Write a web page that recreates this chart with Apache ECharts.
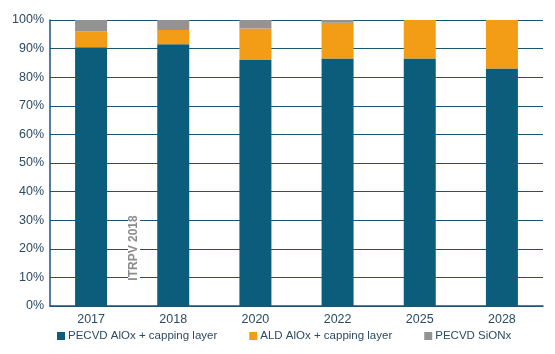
<!DOCTYPE html>
<html>
<head>
<meta charset="utf-8">
<script src="https://cdn.jsdelivr.net/npm/echarts@6/dist/echarts.min.js"></script>
<style>
  html, body { margin: 0; padding: 0; background: #fff; }
  #chart { width: 555px; height: 354px; }
</style>
</head>
<body>
<div id="chart"></div>
<script>
// 年份
var years = ['2017', '2018', '2020', '2022', '2025', '2028'];
// 各系列份额（%）
var pecvdAlox = [90.5, 91.5, 86, 86.5, 86.5, 83];
var aldAlox = [5.5, 5, 11, 12.5, 13.5, 17];
var pecvdSionx = [4, 3.5, 3, 1, 0, 0];
var seriesNames = ['PECVD AlOx + capping layer', 'ALD AlOx + capping layer', 'PECVD SiONx'];
var colorList = ['#0b5d7b', '#f39c15', '#939393'];

var chart = echarts.init(document.getElementById('chart'));

var axisColor = '#1b5572';
var labelColor = '#2c4a63';

function bar(name, data, color) {
    return {
        name: name,
        type: 'bar',
        stack: 'total',
        barWidth: 32,
        data: data,
        itemStyle: { color: color }
    };
}

chart.setOption({
    animation: false,
    grid: { left: 50, right: 12, top: 20, bottom: 48 },
    legend: {
        top: 330,
        left: 57,
        width: 495,
        padding: 0,
        icon: 'rect',
        itemWidth: 8,
        itemHeight: 8,
        itemGap: 32,
        textStyle: { color: labelColor, fontSize: 11.5, fontFamily: 'Liberation Sans', padding: [0, 0, 0, -2] },
        data: seriesNames
    },
    xAxis: {
        type: 'category',
        data: years,
        axisLine: { lineStyle: { color: axisColor, width: 1.5 } },
        axisTick: { show: false },
        axisLabel: { color: labelColor, fontSize: 12.5, fontFamily: 'Liberation Sans', margin: 7 }
    },
    yAxis: {
        type: 'value',
        min: 0,
        max: 100,
        interval: 10,
        axisLine: { show: true, lineStyle: { color: axisColor, width: 1.5 } },
        axisTick: { show: false },
        splitLine: { lineStyle: { color: axisColor, width: 1.2 } },
        axisLabel: { color: labelColor, fontSize: 12.5, fontFamily: 'Liberation Sans', formatter: '{value}%', margin: 6 }
    },
    graphic: [{
        type: 'text',
        x: 134,
        y: 248,
        rotation: Math.PI / 2,
        style: {
            text: 'ITRPV 2018',
            fill: '#8c8c8c',
            font: 'bold 12px Liberation Sans',
            align: 'center',
            verticalAlign: 'middle',
            backgroundColor: '#fff',
            padding: [0, 4]
        },
        z: 100
    }],
    series: [
        bar(seriesNames[0], pecvdAlox, colorList[0]),
        bar(seriesNames[1], aldAlox, colorList[1]),
        bar(seriesNames[2], pecvdSionx, colorList[2])
    ]
});
</script>
</body>
</html>
